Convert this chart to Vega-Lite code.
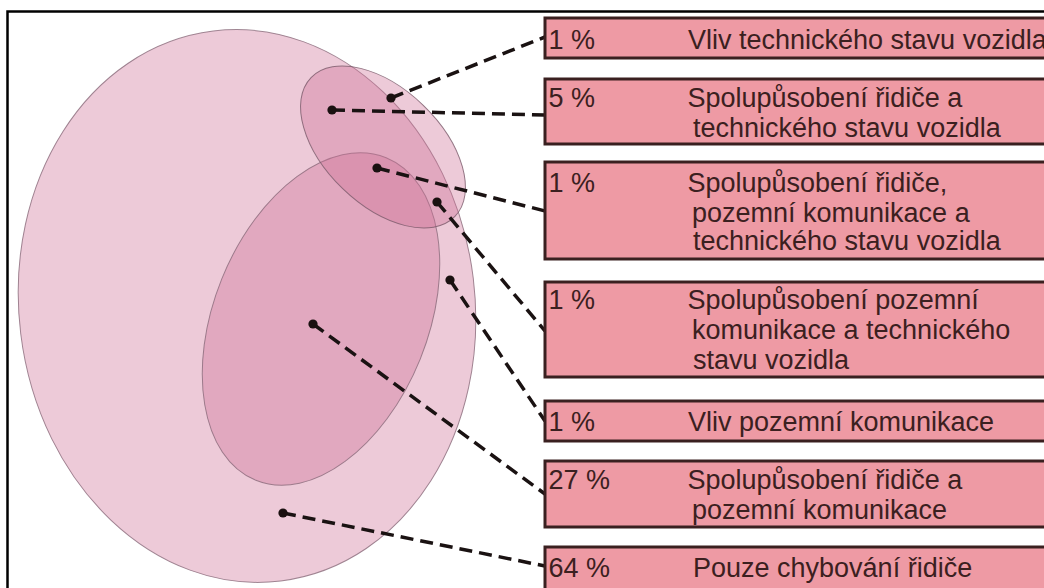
{
  "$schema": "https://vega.github.io/schema/vega-lite/v6.json",
  "width": 1044,
  "height": 588,
  "autosize": {"type": "fit", "contains": "padding"},
  "padding": 0,
  "background": "#ffffff",
  "config": {"view": {"stroke": null}},
  "datasets": {
    "frame": [{"x0": 7.5, "x1": 1070, "y0": 11.5, "y1": 620}],
    "ellipses": [
      {"name": "Řidič", "cx": 247, "cy": 306},
      {"name": "Pozemní komunikace", "cx": 321, "cy": 319},
      {"name": "Technický stav vozidla", "cx": 383, "cy": 147}
    ],
    "connectors": [
      {"id": 1, "dx": 391, "dy": 98, "ex": 545, "ey": 37},
      {"id": 2, "dx": 332, "dy": 110, "ex": 545, "ey": 115},
      {"id": 3, "dx": 377, "dy": 168, "ex": 545, "ey": 211},
      {"id": 4, "dx": 437, "dy": 202, "ex": 545, "ey": 331},
      {"id": 5, "dx": 450, "dy": 280, "ex": 545, "ey": 421},
      {"id": 6, "dx": 313, "dy": 324, "ex": 545, "ey": 494},
      {"id": 7, "dx": 283, "dy": 513, "ex": 545, "ey": 566}
    ],
    "boxes": [
      {"id": 1, "pct": "1 %", "y0": 18, "y1": 58, "base": 49},
      {"id": 2, "pct": "5 %", "y0": 79, "y1": 144, "base": 107},
      {"id": 3, "pct": "1 %", "y0": 162, "y1": 259, "base": 192},
      {"id": 4, "pct": "1 %", "y0": 282, "y1": 377, "base": 309},
      {"id": 5, "pct": "1 %", "y0": 401, "y1": 441, "base": 431},
      {"id": 6, "pct": "27 %", "y0": 461, "y1": 527, "base": 489},
      {"id": 7, "pct": "64 %", "y0": 547, "y1": 610, "base": 577}
    ],
    "lines": [
      {"id": 1, "x": 688, "y": 49, "text": "Vliv technického stavu vozidla"},
      {"id": 2, "x": 687.5, "y": 107, "text": "Spolupůsobení řidiče a"},
      {"id": 2, "x": 693, "y": 137, "text": "technického stavu vozidla"},
      {"id": 3, "x": 687.5, "y": 192, "text": "Spolupůsobení řidiče,"},
      {"id": 3, "x": 692, "y": 222, "text": "pozemní komunikace a"},
      {"id": 3, "x": 693, "y": 250, "text": "technického stavu vozidla"},
      {"id": 4, "x": 687.5, "y": 309, "text": "Spolupůsobení pozemní"},
      {"id": 4, "x": 692, "y": 339, "text": "komunikace a technického"},
      {"id": 4, "x": 693, "y": 369, "text": "stavu vozidla"},
      {"id": 5, "x": 688, "y": 431, "text": "Vliv pozemní komunikace"},
      {"id": 6, "x": 687.5, "y": 489, "text": "Spolupůsobení řidiče a"},
      {"id": 6, "x": 692, "y": 519, "text": "pozemní komunikace"},
      {"id": 7, "x": 693, "y": 577, "text": "Pouze chybování řidiče"}
    ]
  },
  "layer": [
    {
      "data": {"name": "frame"},
      "mark": {"type": "rect", "fill": null, "fillOpacity": 0, "stroke": "#000000", "strokeWidth": 2.5, "clip": true},
      "encoding": {
        "x": {"field": "x0", "type": "quantitative", "scale": {"domain": [0, 1044], "nice": false, "zero": false}, "axis": null},
        "x2": {"field": "x1"},
        "y": {"field": "y0", "type": "quantitative", "scale": {"domain": [0, 588], "nice": false, "zero": false, "reverse": true}, "axis": null},
        "y2": {"field": "y1"}
      }
    },
    {
      "data": {"name": "ellipses"},
      "transform": [{"filter": "datum.name === 'Řidič'"}],
      "mark": {"type": "point", "filled": true, "color": "#cf6f94", "fillOpacity": 0.37, "stroke": "#8a6a7a", "strokeWidth": 1, "strokeOpacity": 0.8, "opacity": 1, "size": 306916, "angle": -7,
        "shape": "M0.823,0C0.823,0.5523,0.4545,1,0,1C-0.4545,1,-0.823,0.5523,-0.823,0C-0.823,-0.5523,-0.4545,-1,0,-1C0.4545,-1,0.823,-0.5523,0.823,0Z"},
      "encoding": {
        "x": {"field": "cx", "type": "quantitative"},
        "y": {"field": "cy", "type": "quantitative"}
      }
    },
    {
      "data": {"name": "ellipses"},
      "transform": [{"filter": "datum.name === 'Pozemní komunikace'"}],
      "mark": {"type": "point", "filled": true, "color": "#cf6f94", "fillOpacity": 0.37, "stroke": "#8a6a7a", "strokeWidth": 1, "strokeOpacity": 0.8, "opacity": 1, "size": 121104, "angle": 22,
        "shape": "M0.615,0C0.615,0.5523,0.3397,1,0,1C-0.3397,1,-0.615,0.5523,-0.615,0C-0.615,-0.5523,-0.3397,-1,0,-1C0.3397,-1,0.615,-0.5523,0.615,0Z"},
      "encoding": {
        "x": {"field": "cx", "type": "quantitative"},
        "y": {"field": "cy", "type": "quantitative"}
      }
    },
    {
      "data": {"name": "ellipses"},
      "transform": [{"filter": "datum.name === 'Technický stav vozidla'"}],
      "mark": {"type": "point", "filled": true, "color": "#cf6f94", "fillOpacity": 0.37, "stroke": "#7a5a6a", "strokeWidth": 1, "strokeOpacity": 0.8, "opacity": 1, "size": 40000, "angle": 44,
        "shape": "M1,0C1,0.3203,0.5523,0.58,0,0.58C-0.5523,0.58,-1,0.3203,-1,0C-1,-0.3203,-0.5523,-0.58,0,-0.58C0.5523,-0.58,1,-0.3203,1,0Z"},
      "encoding": {
        "x": {"field": "cx", "type": "quantitative"},
        "y": {"field": "cy", "type": "quantitative"}
      }
    },
    {
      "data": {"name": "connectors"},
      "mark": {"type": "rule", "color": "#1a1212", "strokeWidth": 3.5, "strokeDash": [13, 7], "strokeCap": "butt"},
      "encoding": {
        "x": {"field": "dx", "type": "quantitative"},
        "y": {"field": "dy", "type": "quantitative"},
        "x2": {"field": "ex"},
        "y2": {"field": "ey"}
      }
    },
    {
      "data": {"name": "connectors"},
      "mark": {"type": "point", "shape": "circle", "filled": true, "color": "#1a1010", "opacity": 1, "size": 85},
      "encoding": {
        "x": {"field": "dx", "type": "quantitative"},
        "y": {"field": "dy", "type": "quantitative"}
      }
    },
    {
      "data": {"name": "boxes"},
      "mark": {"type": "rect", "fill": "#ee9aa4", "stroke": "#3a2020", "strokeWidth": 3, "clip": true},
      "encoding": {
        "x": {"datum": 545, "type": "quantitative"},
        "x2": {"datum": 1070},
        "y": {"field": "y0", "type": "quantitative"},
        "y2": {"field": "y1"}
      }
    },
    {
      "data": {"name": "boxes"},
      "mark": {"type": "text", "align": "left", "baseline": "alphabetic", "font": "Liberation Sans", "fontSize": 27, "color": "#3b2020"},
      "encoding": {
        "x": {"datum": 548.5, "type": "quantitative"},
        "y": {"field": "base", "type": "quantitative"},
        "text": {"field": "pct"}
      }
    },
    {
      "data": {"name": "lines"},
      "mark": {"type": "text", "align": "left", "baseline": "alphabetic", "font": "Liberation Sans", "fontSize": 27, "color": "#3b2020", "clip": true},
      "encoding": {
        "x": {"field": "x", "type": "quantitative"},
        "y": {"field": "y", "type": "quantitative"},
        "text": {"field": "text"}
      }
    }
  ]
}
